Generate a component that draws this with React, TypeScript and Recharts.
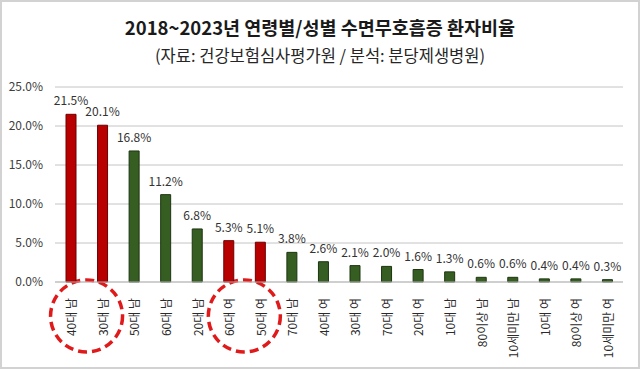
import React from "react";
import {
  BarChart,
  Bar,
  XAxis,
  YAxis,
  CartesianGrid,
  Cell,
  LabelList,
  ReferenceArea,
} from "recharts";

const categories = [
  "40대 남",
  "30대 남",
  "50대 남",
  "60대 남",
  "20대 남",
  "60대 여",
  "50대 여",
  "70대 남",
  "40대 여",
  "30대 여",
  "70대 여",
  "20대 여",
  "10대 남",
  "80이상 남",
  "10세미만 남",
  "10대 여",
  "80이상 여",
  "10세미만 여",
];

const values = [21.5, 20.1, 16.8, 11.2, 6.8, 5.3, 5.1, 3.8, 2.6, 2.1, 2.0, 1.6, 1.3, 0.6, 0.6, 0.4, 0.4, 0.3];

const highlighted = ["40대 남", "30대 남", "60대 여", "50대 여"];

const circledPairs: [string, string][] = [
  ["40대 남", "30대 남"],
  ["60대 여", "50대 여"],
];

const yTicks = [0, 5, 10, 15, 20, 25];

const titleText = "2018~2023년 연령별/성별 수면무호흡증 환자비율";
const subtitleText = "(자료: 건강보험심사평가원 / 분석: 분당제생병원)";

const data = categories.map((name, i) => ({ name, value: values[i] }));

const FONT = '"Noto Sans CJK KR", "Noto Sans", sans-serif';

const RED_FILL = "#b80000";
const RED_STROKE = "#6e0000";
const GREEN_FILL = "#375e22";
const GREEN_STROKE = "#1c3510";

const fmt = (v: number) => `${Number(v).toFixed(1)}%`;

const XTick = (props: any) => {
  const { x, y, payload } = props;
  return (
    <text
      x={x}
      y={y + 8}
      transform={`rotate(-90, ${x}, ${y + 8})`}
      textAnchor="end"
      dominantBaseline="central"
      fontSize={12}
      fill="#2a2a2a"
      fontFamily={FONT}
    >
      {payload.value}
    </text>
  );
};

const CircleShape = (props: any) => {
  const { x, y, width, height } = props;
  const cx = x + width / 2;
  const cy = y + height + 34;
  return (
    <ellipse
      cx={cx}
      cy={cy}
      rx={36}
      ry={36}
      fill="none"
      stroke="#e01a1a"
      strokeWidth={3.5}
      strokeDasharray="9 5"
    />
  );
};

export default function App() {
  return (
    <div
      style={{
        position: "absolute",
        left: 0,
        top: 0,
        width: 640,
        height: 369,
        background: "#fff",
        fontFamily: FONT,
      }}
    >
      <div
        style={{
          position: "absolute",
          left: 0,
          top: 0,
          width: 640,
          height: 369,
          boxSizing: "border-box",
          border: "2px solid #d2d2d2",
        }}
      />
      <div
        style={{
          position: "absolute",
          left: 0,
          top: 14,
          width: 640,
          textAlign: "center",
          fontSize: 18.5,
          fontWeight: 700,
          color: "#1a1a1a",
          lineHeight: "26px",
        }}
      >
        {titleText}
      </div>
      <div
        style={{
          position: "absolute",
          left: 0,
          top: 43,
          width: 640,
          textAlign: "center",
          fontSize: 16.5,
          color: "#262626",
          lineHeight: "24px",
        }}
      >
        {subtitleText}
      </div>
      <div style={{ position: "absolute", left: 0, top: 0 }}>
        <BarChart
          width={640}
          height={369}
          data={data}
          margin={{ top: 87, right: 17, bottom: 7, left: 6 }}
        >
          <CartesianGrid vertical={false} stroke="#c4c4c4" />
          <XAxis
            dataKey="name"
            interval={0}
            tickLine={false}
            axisLine={{ stroke: "#bdbdbd" }}
            tick={<XTick />}
            height={80}
          />
          <YAxis
            domain={[0, 25]}
            ticks={yTicks}
            tickFormatter={fmt}
            axisLine={false}
            tickLine={false}
            tickMargin={6}
            width={49}
            tick={{ fontSize: 12, fill: "#404040", fontFamily: FONT }}
          />
          {circledPairs.map(([a, b]) => (
            <ReferenceArea
              key={a}
              x1={a}
              x2={b}
              ifOverflow="visible"
              shape={(p: any) => <CircleShape {...p} />}
            />
          ))}
          <Bar dataKey="value" barSize={10} isAnimationActive={false} strokeWidth={1}>
            {data.map((d) => {
              const red = highlighted.includes(d.name);
              return (
                <Cell
                  key={d.name}
                  fill={red ? RED_FILL : GREEN_FILL}
                  stroke={red ? RED_STROKE : GREEN_STROKE}
                />
              );
            })}
            <LabelList
              dataKey="value"
              position="top"
              offset={9}
              formatter={(v: any) => fmt(v)}
              style={{ fontSize: 12, fill: "#333", fontFamily: FONT }}
            />
          </Bar>
        </BarChart>
      </div>
    </div>
  );
}
